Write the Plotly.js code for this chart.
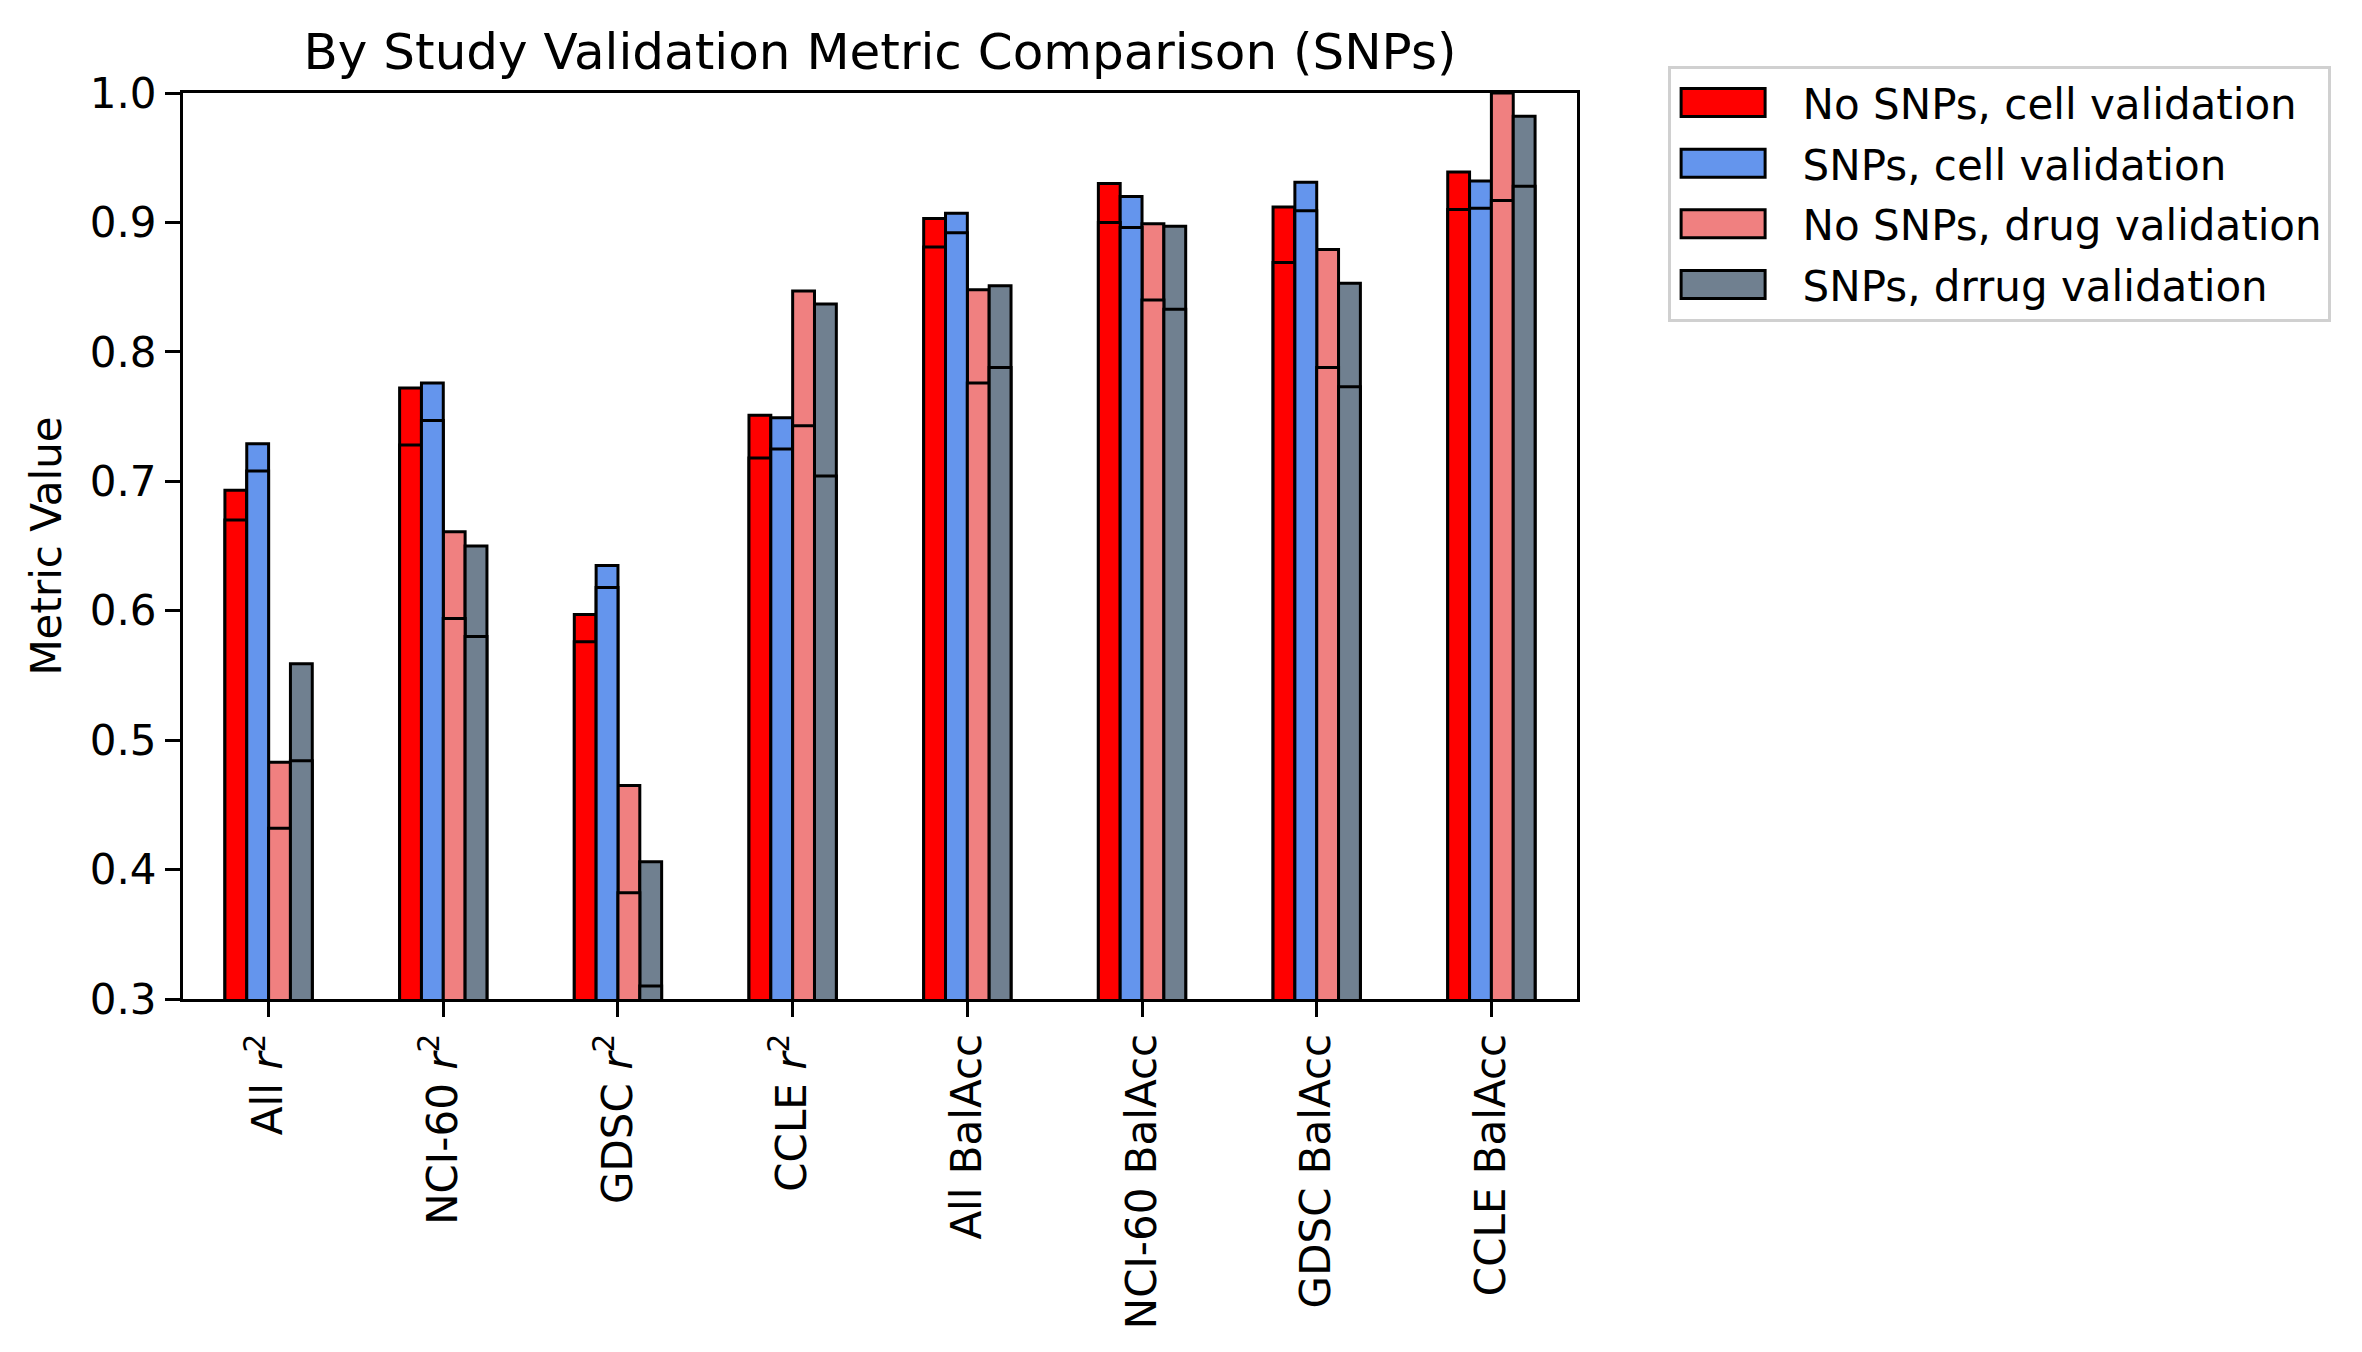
<!DOCTYPE html>
<html>
<head>
<meta charset="utf-8">
<script src="https://cdn.plot.ly/plotly-3.0.1.min.js"></script>
<style>
  html, body { margin: 0; padding: 0; background: #fff; }
  #plot { width: 2362px; height: 1352px; }
</style>
</head>
<body>
<div id="plot"></div>
<script>
// Categories on the x axis
let categories = ["All <i>r</i><sup>2</sup>", "NCI-60 <i>r</i><sup>2</sup>", "GDSC <i>r</i><sup>2</sup>",
  "CCLE <i>r</i><sup>2</sup>", "All BalAcc", "NCI-60 BalAcc", "GDSC BalAcc", "CCLE BalAcc"]

// Series names
let seriesNames = ["No SNPs, cell validation", "SNPs, cell validation",
  "No SNPs, drug validation", "SNPs, drrug validation"]

// Top of each bar
let noSnpCellTop = [0.693, 0.772, 0.597, 0.751, 0.903, 0.930, 0.912, 0.939]
let snpCellTop = [0.729, 0.776, 0.635, 0.749, 0.907, 0.920, 0.931, 0.932]
let noSnpDrugTop = [0.483, 0.661, 0.465, 0.847, 0.848, 0.899, 0.879, 1.000]
let snpDrugTop = [0.559, 0.650, 0.406, 0.837, 0.851, 0.897, 0.853, 0.982]

// Inner line of each bar
let noSnpCellInner = [0.670, 0.728, 0.576, 0.718, 0.881, 0.900, 0.869, 0.910]
let snpCellInner = [0.708, 0.747, 0.618, 0.725, 0.892, 0.896, 0.909, 0.911]
let noSnpDrugInner = [0.432, 0.594, 0.382, 0.743, 0.776, 0.840, 0.788, 0.917]
let snpDrugInner = [0.484, 0.580, 0.310, 0.704, 0.788, 0.833, 0.773, 0.928]

let colors = ["#ff0000", "#6495ed", "#f08080", "#708090"]

let tops = [noSnpCellTop, snpCellTop, noSnpDrugTop, snpDrugTop]
let inners = [noSnpCellInner, snpCellInner, noSnpDrugInner, snpDrugInner]

let data = []

// full height bars (with legend)
for (let i = 0; i < tops.length; i++) {
  data.push({
    x: categories,
    y: tops[i],
    name: seriesNames[i],
    type: "bar",
    offsetgroup: String(i),
    legendgroup: String(i),
    marker: { color: colors[i], line: { color: "#000", width: 3 } },
    hoverinfo: "y+name"
  })
}

// lower bars drawn on top, their edge gives the inner line
for (let i = 0; i < inners.length; i++) {
  data.push({
    x: categories,
    y: inners[i],
    name: seriesNames[i],
    type: "bar",
    offsetgroup: String(i),
    legendgroup: String(i),
    showlegend: false,
    marker: { color: colors[i], line: { color: "#000", width: 3 } },
    hoverinfo: "y+name"
  })
}

let font = "DejaVu Sans, Liberation Sans, sans-serif"

let layout = {
  width: 2362,
  height: 1352,
  margin: { l: 183, r: 785, t: 93, b: 353 },
  paper_bgcolor: "#fff",
  plot_bgcolor: "#fff",
  font: { family: font, size: 42, color: "#000" },
  title: {
    text: "By Study Validation Metric Comparison (SNPs)",
    font: { family: font, size: 50, color: "#000" },
    xref: "paper", x: 0.5, xanchor: "center",
    yref: "container", y: 0.962, yanchor: "middle"
  },
  barmode: "group",
  bargap: 0.5,
  bargroupgap: 0,
  xaxis: {
    range: [-0.49, 7.49],
    tickangle: -90,
    ticks: "outside",
    ticklen: 15,
    tickwidth: 3,
    tickcolor: "#000",
    showline: true,
    linecolor: "#000",
    linewidth: 3,
    mirror: true,
    showgrid: false,
    zeroline: false,
    automargin: false,
    tickfont: { family: font, size: 42 }
  },
  yaxis: {
    range: [0.3, 1.0],
    dtick: 0.1,
    tickformat: ".1f",
    ticks: "outside",
    ticklen: 15,
    tickwidth: 3,
    tickcolor: "#000",
    showline: true,
    linecolor: "#000",
    linewidth: 3,
    mirror: true,
    showgrid: false,
    zeroline: false,
    automargin: false,
    tickfont: { family: font, size: 42 },
    title: { text: "Metric Value", font: { family: font, size: 42 }, standoff: 16 }
  },
  legend: {
    x: 1.065, xanchor: "left",
    y: 1.03, yanchor: "top",
    bordercolor: "#d0d0d0",
    borderwidth: 3,
    bgcolor: "#fff",
    font: { family: font, size: 42 },
    itemwidth: 122,
    traceorder: "grouped",
    tracegroupgap: 3
  },
  showlegend: true
}

// widen the legend swatches to matplotlib-like rectangles
function widenSwatches() {
  let swatches = document.querySelectorAll("#plot .legend .legendpoints path")
  swatches.forEach(function (p) {
    p.setAttribute("d", "M10.5,14H94.5V-14H10.5Z")
    p.removeAttribute("transform")
    p.style.strokeWidth = "3px"
    p.style.stroke = "#000"
  })
}

let gd = document.getElementById("plot")
Plotly.newPlot(gd, data, layout, { displayModeBar: false }).then(function () {
  widenSwatches()
  gd.on("plotly_afterplot", widenSwatches)
})
</script>
</body>
</html>
